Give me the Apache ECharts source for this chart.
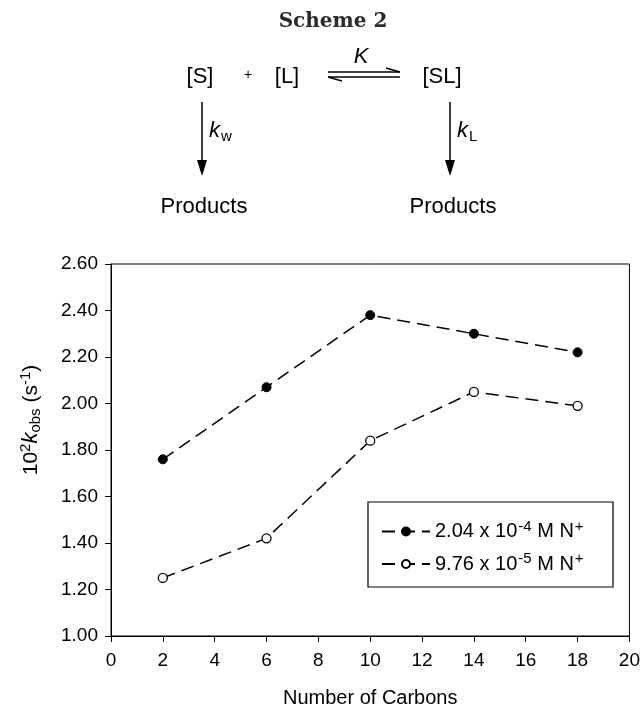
<!DOCTYPE html>
<html>
<head>
<meta charset="utf-8">
<script src="https://cdn.jsdelivr.net/npm/echarts@6/dist/echarts.min.js"></script>
<style>
html,body{margin:0;padding:0;background:#fff;}
#c{width:643px;height:713px;}
</style>
</head>
<body>
<div id="c"></div>
<script>
// ---- data ----
const carbons = [2, 6, 10, 14, 18];
const seriesHigh = [1.76, 2.07, 2.38, 2.30, 2.22];   // 2.04 x 10^-4 M N+
const seriesLow  = [1.25, 1.42, 1.84, 2.05, 1.99];   // 9.76 x 10^-5 M N+
const seriesNames = ['2.04 x 10^-4 M N^+', '9.76 x 10^-5 M N^+'];
const legendRich = [
  '{a|2.04 x 10}{s|-4}{a| M N}{s|+}',
  '{a|9.76 x 10}{s|-5}{a| M N}{s|+}'
];
const xTicks = {min: 0, max: 20, interval: 2};
const yTicks = {min: 1.0, max: 2.6, interval: 0.2};

const FONT = '"Liberation Sans", Arial, sans-serif';
const chart = echarts.init(document.getElementById('c'), null, {renderer: 'canvas'});

function pts(xs, ys){ return xs.map((x,i)=>[x, ys[i]]); }

const schemeText = (text, x, y, extra) => Object.assign({
  type: 'text', x: x, y: y,
  style: Object.assign({text: text, fill: '#000', font: '22px ' + FONT, align: 'center', verticalAlign: 'middle'}, extra || {})
});

const subRich = {
  i: {font: 'italic 22px ' + FONT, fill: '#000'},
  s: {font: '15px ' + FONT, fill: '#000', padding: [11, 0, 0, 1]}
};

const graphic = [
  // Scheme title
  {type:'text', x:333, y:22, style:{text:'Scheme 2', fill:'#2a2a2a', font:'bold 20px "DejaVu Serif", "Liberation Serif", serif', align:'center', verticalAlign:'middle'}},
  schemeText('[S]', 200, 77),
  schemeText('+', 248, 75, {font:'14px ' + FONT}),
  schemeText('[L]', 287, 77),
  schemeText('[SL]', 442, 77),
  {type:'text', x:361, y:57, style:{text:'K', fill:'#000', font:'italic 22px ' + FONT, align:'center', verticalAlign:'middle'}},
  // equilibrium harpoons
  {type:'line', shape:{x1:328, y1:72, x2:400, y2:72}, style:{stroke:'#000', lineWidth:1.5}},
  {type:'line', shape:{x1:400, y1:72, x2:386, y2:68}, style:{stroke:'#000', lineWidth:1.5}},
  {type:'line', shape:{x1:328, y1:77, x2:400, y2:77}, style:{stroke:'#000', lineWidth:1.5}},
  {type:'line', shape:{x1:328, y1:77, x2:342, y2:81}, style:{stroke:'#000', lineWidth:1.5}},
  // left vertical arrow
  {type:'line', shape:{x1:202, y1:102, x2:202, y2:162}, style:{stroke:'#000', lineWidth:1.5}},
  {type:'polygon', shape:{points:[[197,160],[207,160],[202,176]]}, style:{fill:'#000'}},
  // right vertical arrow
  {type:'line', shape:{x1:450, y1:102, x2:450, y2:162}, style:{stroke:'#000', lineWidth:1.5}},
  {type:'polygon', shape:{points:[[445,160],[455,160],[450,176]]}, style:{fill:'#000'}},
  // rate constants
  {type:'text', x:209, y:131, style:{text:'{i|k}{s|w}', verticalAlign:'middle', align:'left', rich: subRich}},
  {type:'text', x:457, y:131, style:{text:'{i|k}{s|L}', verticalAlign:'middle', align:'left', rich: subRich}},
  schemeText('Products', 204, 207),
  schemeText('Products', 453, 207),
  // legend frame
  {type:'rect', shape:{x:368, y:502, width:245, height:85}, style:{fill:'#fff', stroke:'#000', lineWidth:1.2}, z:5}
];

const option = {
  backgroundColor: '#fff',
  animation: false,
  graphic: graphic,
  grid: {left: 111, right: 12, top: 264, bottom: 68, show: true, borderColor: '#000', borderWidth: 1, containLabel: false},
  legend: {
    orient: 'vertical', left: 376, top: 514, z: 10,
    itemWidth: 48, itemHeight: 10, itemGap: 10,
    data: seriesNames,
    formatter: function(name){ return legendRich[seriesNames.indexOf(name)]; },
    textStyle: {
      fontFamily: FONT, fontSize: 20, color: '#000',
      rich: {
        a: {fontFamily: FONT, fontSize: 20, color: '#000'},
        s: {fontFamily: FONT, fontSize: 15, color: '#000', padding: [0,0,10,1]}
      }
    }
  },
  xAxis: {
    type: 'value', min: xTicks.min, max: xTicks.max, interval: xTicks.interval,
    name: 'Number of Carbons', nameLocation: 'middle', nameGap: 52,
    nameTextStyle: {fontFamily: FONT, fontSize: 20, color: '#000'},
    axisLine: {show: true, lineStyle: {color: '#000', width: 1}},
    axisTick: {show: true, inside: false, length: 6, lineStyle: {color: '#000'}},
    axisLabel: {fontFamily: FONT, fontSize: 19, color: '#000', margin: 15},
    splitLine: {show: false}
  },
  yAxis: {
    type: 'value', min: yTicks.min, max: yTicks.max, interval: yTicks.interval,
    name: '{n|10}{p|2}{i|k}{b|obs}{n| (s}{p|-1}{n|)}',
    nameLocation: 'middle', nameRotate: 90, nameGap: 67,
    nameTextStyle: {
      fontFamily: FONT, fontSize: 21, color: '#000', padding: [0,0,0,60],
      rich: {
        n: {fontFamily: FONT, fontSize: 21, color: '#000'},
        i: {fontFamily: FONT, fontSize: 22, fontStyle: 'italic', color: '#000'},
        p: {fontFamily: FONT, fontSize: 15, color: '#000', padding: [0,0,11,0]},
        b: {fontFamily: FONT, fontSize: 15, color: '#000', padding: [10,0,0,0]}
      }
    },
    axisLine: {show: true, lineStyle: {color: '#000', width: 1}},
    axisTick: {show: true, inside: false, length: 6, lineStyle: {color: '#000'}},
    axisLabel: {fontFamily: FONT, fontSize: 19, color: '#000', margin: 13, formatter: v => v.toFixed(2)},
    splitLine: {show: false}
  },
  series: [
    {
      name: seriesNames[0], type: 'line', data: pts(carbons, seriesHigh),
      symbol: 'circle', symbolSize: 9,
      itemStyle: {color: '#000', borderColor: '#000', borderWidth: 1},
      lineStyle: {color: '#000', width: 1.5, type: [13, 7]},
      z: 3
    },
    {
      name: seriesNames[1], type: 'line', data: pts(carbons, seriesLow),
      symbol: 'circle', symbolSize: 9,
      itemStyle: {color: '#fff', borderColor: '#000', borderWidth: 1.3},
      lineStyle: {color: '#000', width: 1.5, type: [13, 7]},
      z: 3
    }
  ]
};
chart.setOption(option);
</script>
</body>
</html>
